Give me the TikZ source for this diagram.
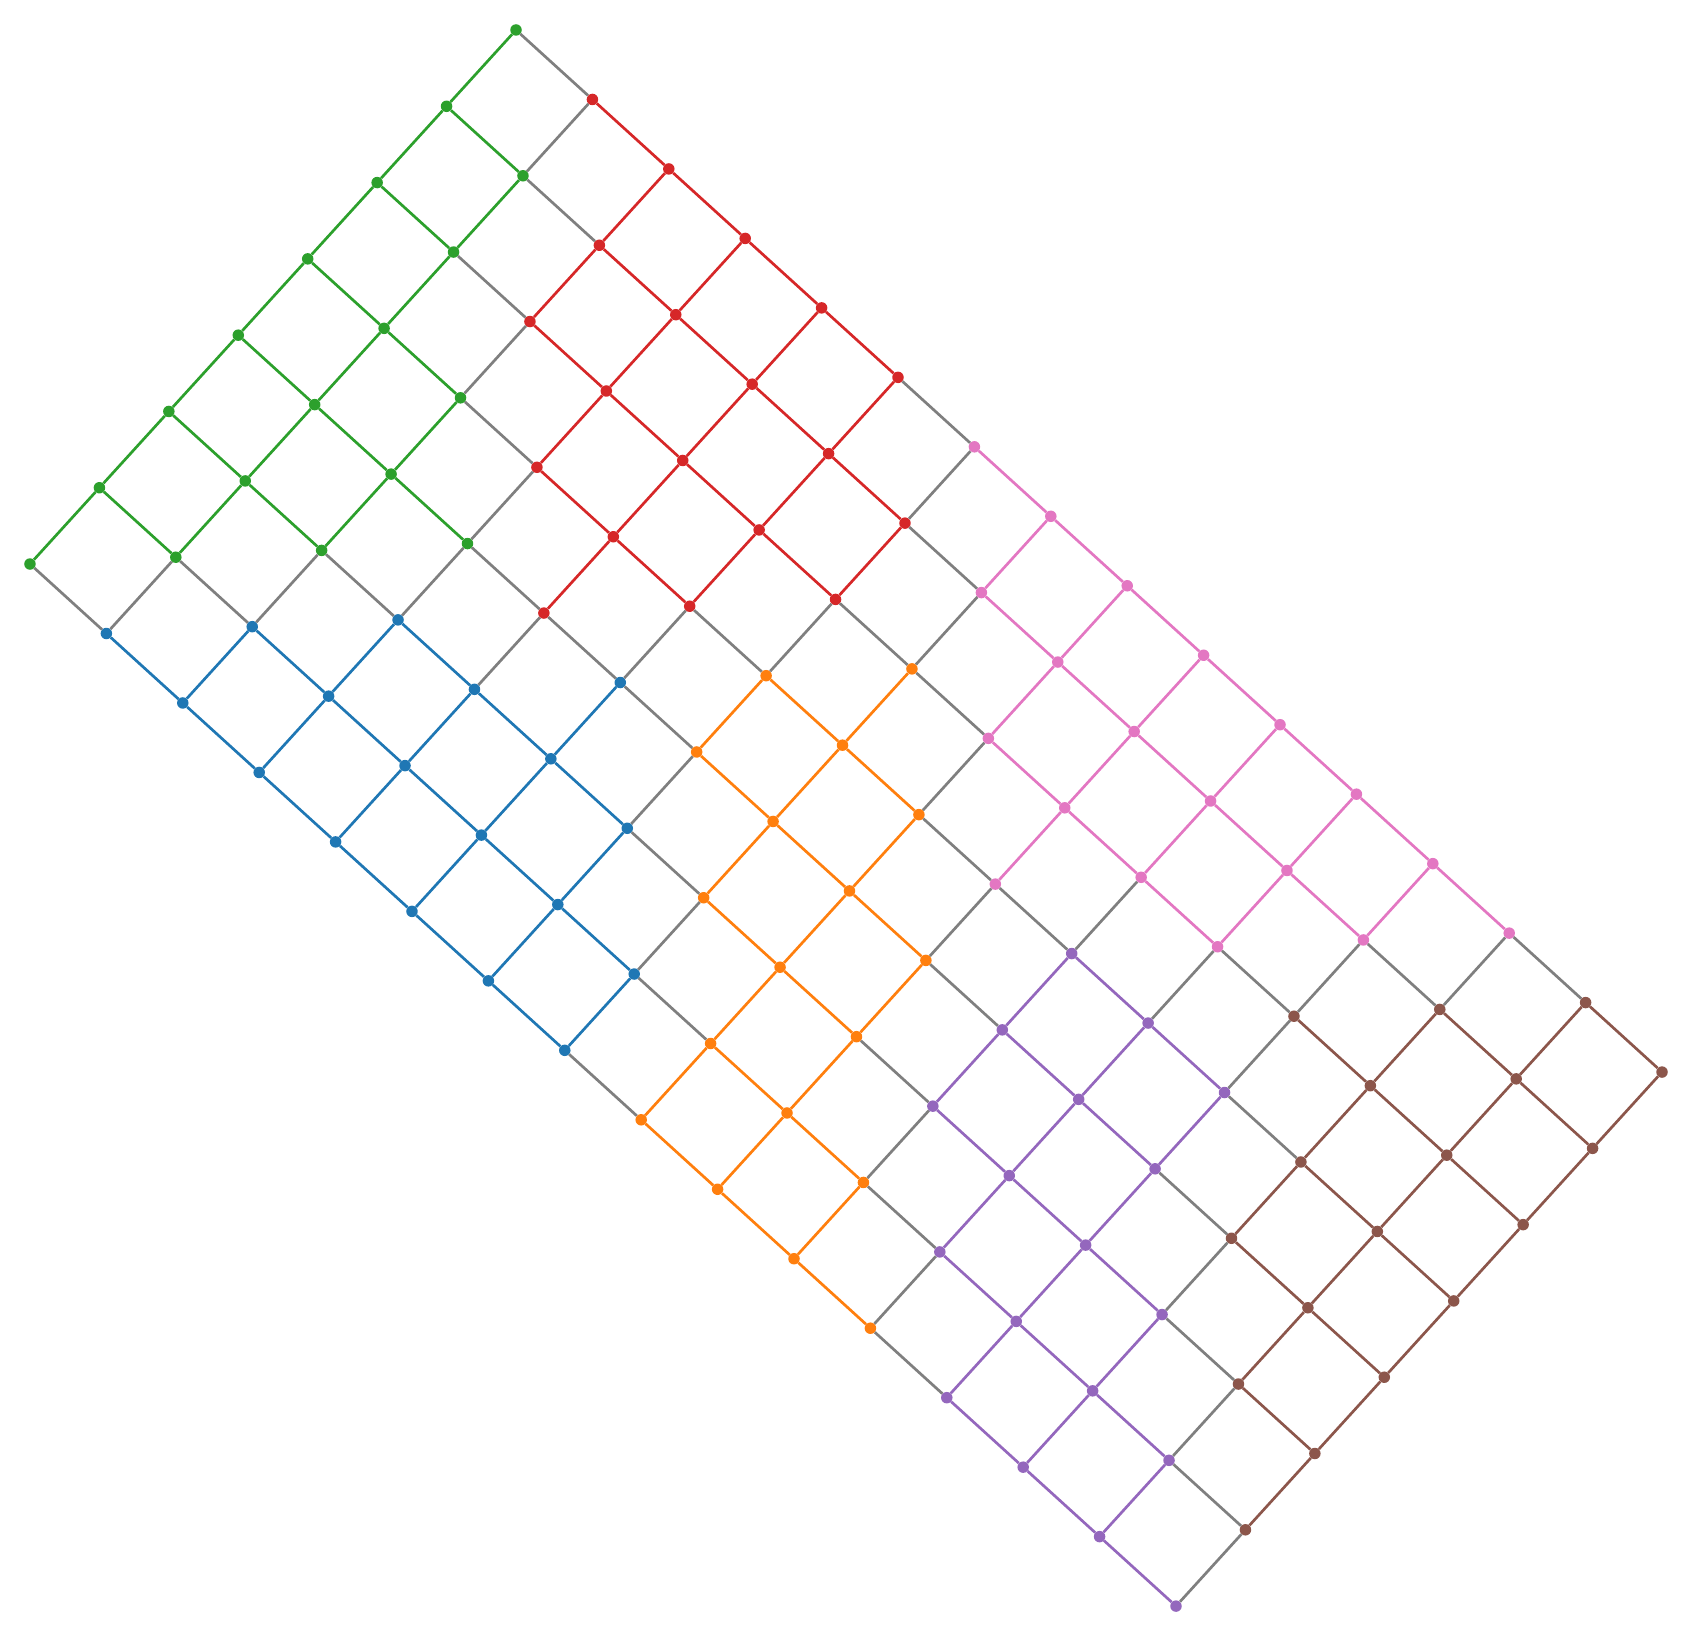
\documentclass[tikz,border=0pt]{standalone}
\definecolor{cg}{HTML}{2CA02C}
\definecolor{cr}{HTML}{D62728}
\definecolor{cb}{HTML}{1F77B4}
\definecolor{co}{HTML}{FF7F0E}
\definecolor{cp}{HTML}{9467BD}
\definecolor{cn}{HTML}{8C564B}
\definecolor{ck}{HTML}{E377C2}
\definecolor{cx}{HTML}{7F7F7F}
\tikzset{
  dot/.style={circle, inner sep=0pt, minimum size=11.5pt, draw=none},
  edge/.style={line width=2.7pt}
}
\begin{document}
\begin{tikzpicture}[x=1pt,y=-1pt]
\useasboundingbox (0,0) rectangle (1693,1637);
% nodes
\foreach \cols [count=\i from 0] in {
 {g,g,g,g,g,g,g,g},
 {r,g,g,g,g,g,g,b},
 {r,r,r,g,g,g,b,b},
 {r,r,r,r,g,b,b,b},
 {r,r,r,r,r,b,b,b},
 {r,r,r,r,b,b,b,b},
 {k,r,r,o,o,b,b,b},
 {k,k,o,o,o,o,b,b},
 {k,k,k,o,o,o,o,o},
 {k,k,k,k,o,o,o,o},
 {k,k,k,p,p,p,o,o},
 {k,k,k,p,p,p,p,o},
 {k,k,n,p,p,p,p,p},
 {k,n,n,n,n,p,p,p},
 {n,n,n,n,n,n,p,p},
 {n,n,n,n,n,n,n,p}} {
  \foreach \c [count=\jj from 0] in \cols {
    \node[dot, fill=c\c] (n-\i-\jj) at ({516+76.4*\i-69.43*\jj},{30+69.47*\i+76.29*\jj}) {};
    \expandafter\xdef\csname col-\i-\jj\endcsname{\c}
  }
}
% edges along i
\foreach \i in {0,...,14} {
  \foreach \j in {0,...,7} {
    \pgfmathtruncatemacro\k{\i+1}
    \edef\ca{\csname col-\i-\j\endcsname}
    \edef\cb{\csname col-\k-\j\endcsname}
    \ifx\ca\cb \edef\ec{c\ca}\else\def\ec{cx}\fi
    \draw[edge, draw=\ec] (n-\i-\j) -- (n-\k-\j);
  }
}
% edges along j
\foreach \i in {0,...,15} {
  \foreach \j in {0,...,6} {
    \pgfmathtruncatemacro\k{\j+1}
    \edef\ca{\csname col-\i-\j\endcsname}
    \edef\cb{\csname col-\i-\k\endcsname}
    \ifx\ca\cb \edef\ec{c\ca}\else\def\ec{cx}\fi
    \draw[edge, draw=\ec] (n-\i-\j) -- (n-\i-\k);
  }
}
\end{tikzpicture}
\end{document}
